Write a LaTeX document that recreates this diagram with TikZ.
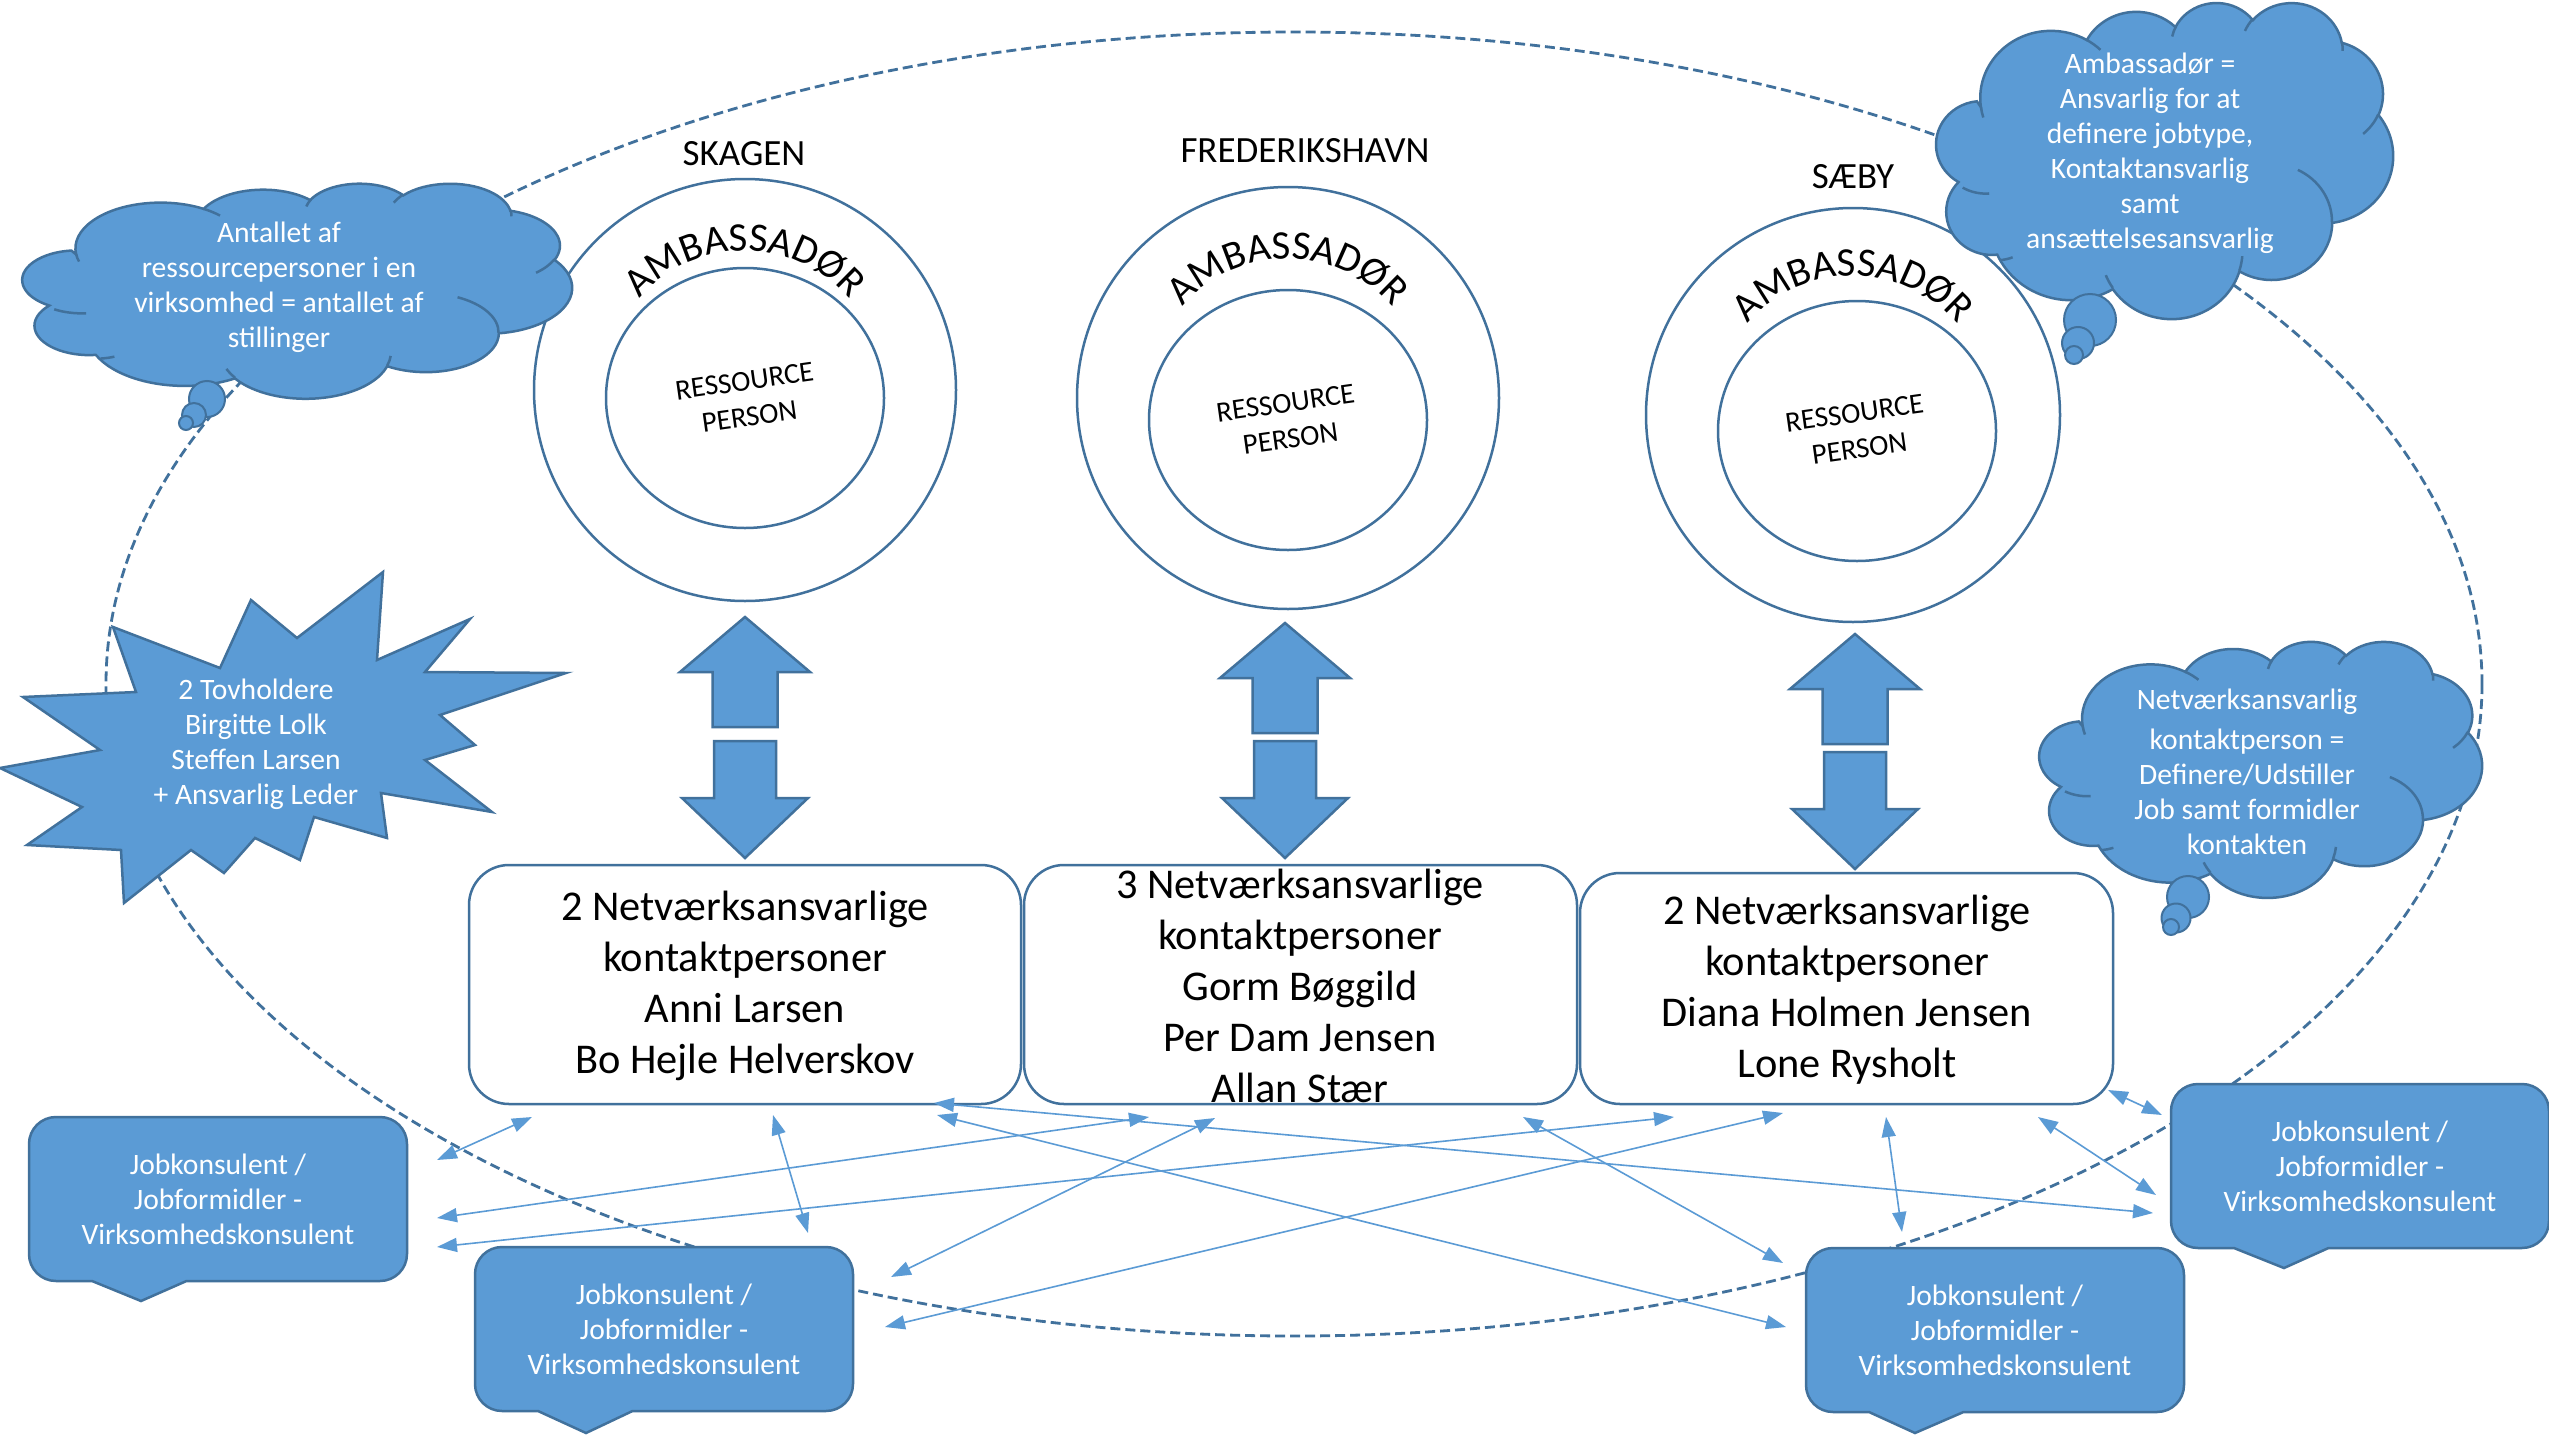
\documentclass[tikz,border=0pt]{standalone}
\usepackage{fontspec}
\setmainfont{Carlito}
\usetikzlibrary{arrows.meta,decorations.text,shapes.geometric}
\definecolor{ofill}{HTML}{5B9BD5}
\definecolor{oline}{HTML}{41719C}
\newcommand\ambfont{\fontsize{20.3}{24}\selectfont}
% OOXML-style arcTo (visual angles -> parametric angles)
\newcommand\ooarc[4]{%
  \pgfextra{%
    \pgfmathparse{atan2((#1)*sin(#3),(#2)*cos(#3))}\xdef\oots{\pgfmathresult}%
    \pgfmathparse{atan2((#1)*sin((#3)+(#4)),(#2)*cos((#3)+(#4)))}\xdef\oote{\pgfmathresult}%
    \pgfmathparse{(\oote)-(\oots)}\xdef\oodt{\pgfmathresult}%
    \pgfmathparse{(\oodt)+360*((\oodt)<0)}\xdef\oodt{\pgfmathresult}%
  }%
  arc[start angle=\oots, delta angle=\oodt, x radius={#1/432}, y radius={#2/432}]%
}
\def\cloudouter{({3900/432},{14370/432})
 \ooarc{6753}{9190}{-190.4875}{123.7805}
 \ooarc{5333}{7267}{-144.1024}{89.9452}
 \ooarc{4365}{5945}{-145.8079}{99.7230}
 \ooarc{4857}{6595}{-130.9861}{117.2417}
 \ooarc{5333}{7273}{-78.7089}{109.0269}
 \ooarc{6775}{9220}{-46.2673}{130.2690}
 \ooarc{5785}{7867}{0.6250}{114.0333}
 \ooarc{6752}{9215}{22.4516}{115.1726}
 \ooarc{7720}{10543}{66.2426}{82.2773}
 \ooarc{4360}{5918}{-274.9421}{146.7356}
 \ooarc{4345}{5945}{-246.8285}{152.5189} -- cycle}
\def\cloudinner{
 (10.863,60.595) \ooarc{4345}{5945}{86.742}{26.4295}
 (16.037,80.785) \ooarc{4360}{5918}{73.6105}{11.4475}
 (38.144,90.486) \ooarc{6752}{9215}{137.6242}{14.0811}
 (66.729,80.442) \ooarc{6752}{9215}{6.4533}{15.9984}
 (79.002,53.134) \ooarc{5785}{7867}{-70.2924}{70.9174}
 (96.755,35.542) \ooarc{5333}{7273}{30.3180}{27.7515}
 (88.713,12.560) \ooarc{4857}{6595}{-13.7443}{14.8589}
 (67.310,9.148) \ooarc{4857}{6595}{-149.1815}{18.1954}
 (51.252,10.926) \ooarc{4365}{5945}{-163.4943}{17.6864}
 (32.407,12.019) \ooarc{6753}{9190}{-66.7070}{12.3194}
 (9.553,36.549) \ooarc{6753}{9190}{157.6544}{11.8582}}
\newcommand\ocloud[5]{%
  \begin{scope}[shift={(#2,#3)},xscale=#4/100,yscale=#5/100]
    \path[bluefill] \cloudouter;
    \path[draw=oline,line width=1.25pt] \cloudinner;
    \coordinate (#1) at (50,50);
  \end{scope}}
\newcommand\blockpair[3]{%
  \path[bluefill] (#1,#2) -- ({#1+65},{#2+55}) -- ({#1+32.5},{#2+55}) -- ({#1+32.5},{#2+110})
     -- ({#1-32.5},{#2+110}) -- ({#1-32.5},{#2+55}) -- ({#1-65},{#2+55}) -- cycle;
  \path[bluefill] ({#1-31},#3) -- ({#1+31},#3) -- ({#1+31},{#3+57}) -- ({#1+63},{#3+57})
     -- (#1,{#3+117}) -- ({#1-63},{#3+57}) -- ({#1-31},{#3+57}) -- cycle;}
\newcommand\jobcallout[5]{%
  \path[bluefill] ({#2+157.5},{#3+164}) -- ({#2+351},{#3+164})
    arc[start angle=90, end angle=0, radius=27] -- ({#2+378},{#3+27})
    arc[start angle=0, end angle=-90, radius=27] -- ({#2+27},#3)
    arc[start angle=-90, end angle=-180, radius=27] -- (#2,{#3+137})
    arc[start angle=180, end angle=90, radius=27] -- ({#2+63},{#3+164}) -- (#4,#5) -- cycle;
  \node[whitetxt] (#1) at ({#2+189},{#3+82}) {Jobkonsulent /\\Jobformidler -\\Virksomhedskonsulent};}
\newcommand\ambarc[1]{%
  \path[decorate, decoration={text along path, text={|\ambfont|AMBASSADØR}, text align=center}]
    (#1) ++(-150:139) arc[start angle=-150, end angle=-30, radius=139];}
\begin{document}
\begin{tikzpicture}[x=0.5pt,y=-0.5pt,
  bluefill/.style={fill=ofill, draw=oline, line width=1.25pt},
  linkarrow/.style={draw=ofill, line width=0.8pt, arrows={Triangle[length=10pt,width=7pt]-Triangle[length=10pt,width=7pt]}},
  whitetxt/.style={text=white, align=center, font=\fontsize{14.8}{17.5}\selectfont, inner sep=0pt},
  boxtxt/.style={align=center, font=\fontsize{21.2}{25.5}\selectfont, inner sep=0pt},
  townlbl/.style={font=\fontsize{18.5}{22}\selectfont, inner sep=0pt},
  restxt/.style={align=center, font=\fontsize{14.5}{18}\selectfont, rotate=8, inner sep=0pt},
  netbox/.style={draw=oline, line width=1.25pt, fill=white, rounded corners=20pt, inner sep=0pt},
  outerc/.style={circle, draw=oline, line width=1.25pt, inner sep=0pt, minimum size=211pt},
  innerc/.style={ellipse, draw=oline, line width=1.25pt, inner sep=0pt, minimum width=139pt, minimum height=130pt},
  bubble/.style={fill=ofill, draw=oline, line width=1pt}]
\useasboundingbox (0,0) rectangle (2549,1440);
\fill[white] (0,0) rectangle (2549,1440);

% big dashed ellipse
\draw[draw=oline, line width=1.4pt, dash pattern=on 5pt off 2.5pt] (1294,684) ellipse [x radius=1188, y radius=652];

% circles
\node[outerc] (skO) at (745,390) {};
\node[innerc] (skI) at (745,398) {};
\node[outerc] (frO) at (1288,398) {};
\node[innerc] (frI) at (1288,420) {};
\node[outerc, minimum size=207pt] (saO) at (1853,415) {};
\node[innerc] (saI) at (1857,431) {};
\node[restxt] (skR) at (747,399) {RESSOURCE\\PERSON};
\node[restxt] (frR) at (1288,421) {RESSOURCE\\PERSON};
\node[restxt] (saR) at (1857,431) {RESSOURCE\\PERSON};
\node[townlbl] (skL) at (744,154) {SKAGEN};
\node[townlbl] (frL) at (1305,151) {FREDERIKSHAVN};
\node[townlbl] (saL) at (1853,177) {SÆBY};
\ambarc{skO.center}
\ambarc{frO.center}
\ambarc{saO.center}

% block arrows
\blockpair{745}{617}{741}
\blockpair{1285}{623}{741}
\blockpair{1855}{634}{752}

% network boxes
\node[netbox, minimum width=276pt, minimum height=119.5pt] (skBox) at (745,984.5) {};
\node[netbox, minimum width=276.5pt, minimum height=119.5pt] (frBox) at (1300.5,984.5) {};
\node[netbox, minimum width=266.5pt, minimum height=115.5pt] (saBox) at (1846.5,988.5) {};
\node[boxtxt] (skTxt) at (745,986) {2 Netværksansvarlige\\kontaktpersoner\\Anni Larsen\\Bo Hejle Helverskov};
\node[boxtxt] (frTxt) at (1300,986) {3 Netværksansvarlige\\kontaktpersoner\\Gorm Bøggild\\Per Dam Jensen\\Allan Stær};
\node[boxtxt] (saTxt) at (1847,990) {2 Netværksansvarlige\\kontaktpersoner\\Diana Holmen Jensen\\Lone Rysholt};

% job callouts
\jobcallout{jobL}{29}{1117}{141}{1301}
\jobcallout{jobBL}{475}{1247}{586}{1433}
\jobcallout{jobBR}{1806}{1248}{1915}{1433}
\jobcallout{jobR}{2171}{1084}{2284}{1268}

% thin double arrows
\coordinate (a1s) at (437,1160);  \coordinate (a1e) at (532,1117);
\coordinate (a2s) at (437,1218);  \coordinate (a2e) at (1149,1117);
\coordinate (a3s) at (437,1247);  \coordinate (a3e) at (1674,1117);
\coordinate (a4s) at (773,1115);  \coordinate (a4e) at (808,1233);
\coordinate (a5s) at (891,1277);  \coordinate (a5e) at (1215,1118);
\coordinate (a6s) at (885,1327);  \coordinate (a6e) at (1783,1113);
\coordinate (a7s) at (934,1103);  \coordinate (a7e) at (2153,1213);
\coordinate (a8s) at (937,1115);  \coordinate (a8e) at (1786,1327);
\coordinate (a9s) at (1523,1117); \coordinate (a9e) at (1783,1263);
\coordinate (a10s) at (1886,1117); \coordinate (a10e) at (1902,1232);
\coordinate (a11s) at (2038,1117); \coordinate (a11e) at (2156,1195);
\coordinate (a12s) at (2108,1090); \coordinate (a12e) at (2162,1115);
\foreach \i in {1,...,12} {\draw[linkarrow] (a\i s) -- (a\i e);}

% clouds
\ocloud{tlCloud}{27}{183}{545}{215}
\draw[bubble] (207,399) circle[radius=18];
\draw[bubble] (194,415) circle[radius=12];
\draw[bubble] (186,423) circle[radius=7];
\node[whitetxt] (tlText) at (279,287) {Antallet af\\ressourcepersoner i en\\virksomhed = antallet af\\stillinger};

\ocloud{trCloud}{1940}{2}{453}{316}
\draw[bubble] (2090,320) circle[radius=26];
\draw[bubble] (2078,343) circle[radius=16];
\draw[bubble] (2074,355) circle[radius=9];
\node[whitetxt] (trText) at (2150,153) {Ambassadør =\\Ansvarlig for at\\definere jobtype,\\Kontaktansvarlig\\samt\\ansættelsesansvarlig};

\ocloud{rCloud}{2043}{641}{439}{256}
\draw[bubble] (2188,897) circle[radius=21];
\draw[bubble] (2176,918) circle[radius=14.5];
\draw[bubble] (2171,927) circle[radius=8];
\node[whitetxt] (rText) at (2247,772) {Netværksansvarlig\\[2.5pt]kontaktperson =\\Definere/Udstiller\\Job samt formidler\\kontakten};

% explosion
\path[bluefill] (113,627) -- (220,668) -- (251,600) -- (297,638) -- (383,572) -- (377,660)
  -- (470,619) -- (425,672) -- (566,673) -- (440,715) -- (475,745) -- (425,760) -- (492,812)
  -- (381,793) -- (387,838) -- (314,817) -- (300,860) -- (255,838) -- (224,873) -- (191,850)
  -- (124,903) -- (121,850) -- (27,845) -- (82,807) -- (0,768) -- (100,750) -- (23,697)
  -- (136,692) -- cycle;
\node[whitetxt] (starText) at (256,744) {2 Tovholdere\\Birgitte Lolk\\Steffen Larsen\\+ Ansvarlig Leder};
\end{tikzpicture}
\end{document}
